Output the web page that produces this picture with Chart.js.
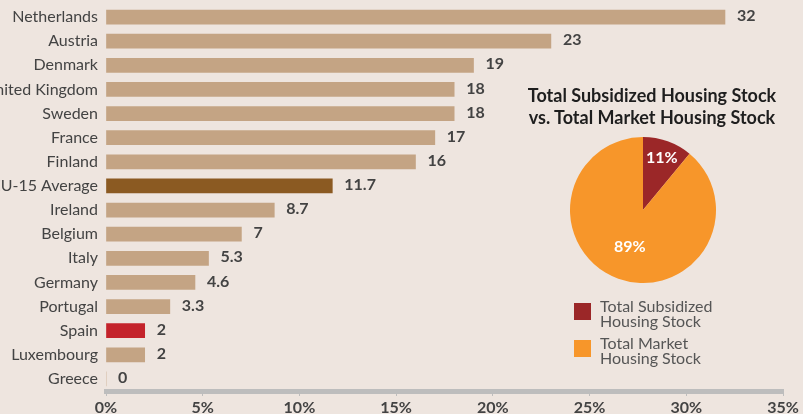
<!DOCTYPE html>
<html>
<head>
<meta charset="utf-8">
<script src="https://cdn.jsdelivr.net/npm/chart.js@4.4.0/dist/chart.umd.min.js"></script>
<style>
  html, body { margin: 0; padding: 0; background: #EEE5DF; }
  #wrap { position: relative; width: 803px; height: 414px; overflow: hidden; background: #EEE5DF; font-family: Lato, "Open Sans", sans-serif; }
  #bar { position: absolute; left: 0; top: 0; }
  #pie { position: absolute; left: 570px; top: 137px; }
  #pieTitle { position: absolute; left: 502px; width: 300px; top: 84px; text-align: center; font-weight: bold; font-size: 18px; line-height: 22px; color: #1e1e1e; }
  .leg { position: absolute; left: 574px; }
  .leg .sw { position: absolute; left: 0; top: 5px; width: 17px; height: 17px; }
  .leg .tx { position: absolute; left: 26px; top: 0; white-space: nowrap; font-size: 16px; line-height: 15px; color: #555; }
</style>
</head>
<body>
<div id="wrap">
  <canvas id="bar" width="803" height="414"></canvas>
  <div id="pieTitle">Total Subsidized Housing Stock<br>vs. Total Market Housing Stock</div>
  <canvas id="pie" width="146" height="146"></canvas>
  <div class="leg" style="top:298px"><div class="sw" style="background:#9B2728"></div><div class="tx">Total Subsidized<br>Housing Stock</div></div>
  <div class="leg" style="top:335px"><div class="sw" style="background:#F7962A"></div><div class="tx">Total Market<br>Housing Stock</div></div>
</div>
<script>
// ---- data ----
const countries = ["Netherlands","Austria","Denmark","United Kingdom","Sweden","France","Finland","EU-15 Average","Ireland","Belgium","Italy","Germany","Portugal","Spain","Luxembourg","Greece"];
const shares = [32, 23, 19, 18, 18, 17, 16, 11.7, 8.7, 7, 5.3, 4.6, 3.3, 2, 2, 0];
const shareLabels = ["32","23","19","18","18","17","16","11.7","8.7","7","5.3","4.6","3.3","2","2","0"];
const xTicks = [0, 5, 10, 15, 20, 25, 30, 35];
const pieLabels = ["Total Subsidized Housing Stock", "Total Market Housing Stock"];
const pieValues = [11, 89];

// ---- styling ----
const TAN = "#C4A484", BROWN = "#8B5A22", RED = "#C4232B";
const barColors = countries.map(c => c === "EU-15 Average" ? BROWN : (c === "Spain" ? RED : TAN));
const TXT = "#434343";

const valueLabelPlugin = {
  id: "valueLabels",
  afterDatasetsDraw(chart) {
    const ctx = chart.ctx;
    const meta = chart.getDatasetMeta(0);
    ctx.save();
    ctx.font = "bold 16px Lato";
    ctx.fillStyle = TXT;
    ctx.textAlign = "left";
    ctx.textBaseline = "middle";
    meta.data.forEach((el, i) => {
      ctx.fillText(shareLabels[i], el.x + 12, el.y - 1);
    });
    ctx.restore();
  }
};

new Chart(document.getElementById("bar"), {
  type: "bar",
  data: {
    labels: countries,
    datasets: [{ data: shares, backgroundColor: barColors, barThickness: 14, borderWidth: 0 }]
  },
  options: {
    indexAxis: "y",
    responsive: false,
    animation: false,
    events: [],
    layout: { padding: { top: 5, right: 20, left: 0, bottom: 0 } },
    plugins: { legend: { display: false }, tooltip: { enabled: false } },
    scales: {
      y: {
        grid: { display: false, drawTicks: false },
        border: { display: false },
        ticks: { color: TXT, font: { family: "Lato", size: 16 }, padding: 8, autoSkip: false },
        afterFit(s) { s.width = 106; s.paddingTop = 0; s.paddingBottom = 0; }
      },
      x: {
        min: 0, max: 35,
        afterBuildTicks(s) { s.ticks = xTicks.map(v => ({ value: v })); },
        grid: { drawOnChartArea: false, drawTicks: true, tickLength: 5, color: "#BDBDBD", lineWidth: 1 },
        border: { display: true, color: "#BDBDBD", width: 5 },
        ticks: { color: TXT, font: { family: "Lato", size: 16, weight: "bold" }, padding: 2, callback: v => v + "%", maxRotation: 0 },
        afterFit(s) { s.height = 23; }
      }
    }
  },
  plugins: [valueLabelPlugin]
});

const pieLabelPlugin = {
  id: "pieLabels",
  afterDatasetsDraw(chart) {
    const ctx = chart.ctx;
    const meta = chart.getDatasetMeta(0);
    const fr = [0.76, 0.53];
    ctx.save();
    ctx.font = "bold 16px Lato";
    ctx.fillStyle = "#ffffff";
    ctx.textAlign = "center";
    ctx.textBaseline = "middle";
    meta.data.forEach((arc, i) => {
      const mid = (arc.startAngle + arc.endAngle) / 2;
      const r = arc.outerRadius * fr[i];
      ctx.fillText(pieValues[i] + "%", arc.x + Math.cos(mid) * r, arc.y + Math.sin(mid) * r);
    });
    ctx.restore();
  }
};

new Chart(document.getElementById("pie"), {
  type: "pie",
  data: {
    labels: pieLabels,
    datasets: [{ data: pieValues, backgroundColor: ["#9B2728", "#F7962A"], borderWidth: 0, hoverOffset: 0 }]
  },
  options: {
    responsive: false,
    animation: false,
    events: [],
    layout: { padding: 0 },
    plugins: { legend: { display: false }, tooltip: { enabled: false } }
  },
  plugins: [pieLabelPlugin]
});
</script>
</body>
</html>
